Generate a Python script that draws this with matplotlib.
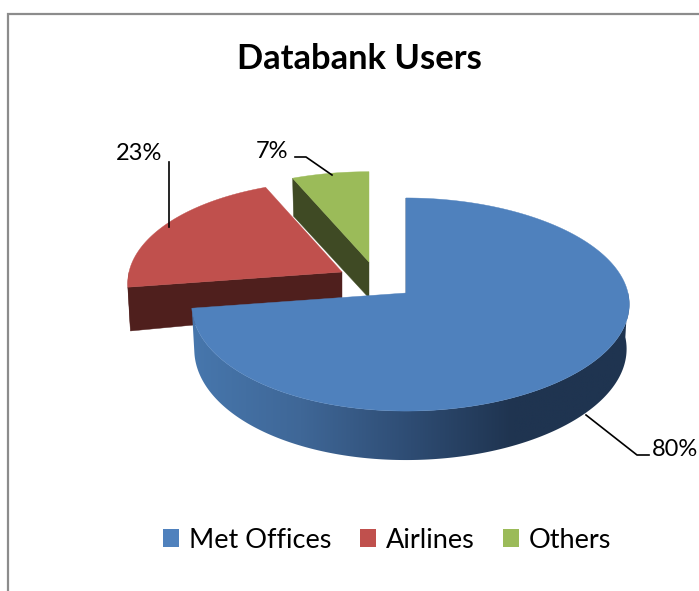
import numpy as np
import matplotlib
matplotlib.use("Agg")
import matplotlib.pyplot as plt
from matplotlib.colors import LinearSegmentedColormap
from matplotlib.patches import Patch, Polygon

# --- data ---
categories = ["Met Offices", "Airlines", "Others"]
values = [80, 23, 7]
title = "Databank Users"

# --- style ---
top_colors = ["#4F81BD", "#C0504D", "#9BBB59"]
wall_colors = ["#2E4B72", "#4F1F1D", "#3F4A24"]
apexes = [(406, 293), (342, 272), (369, 262)]
far_scale = [1.0, 0.96, 0.95]
plt.rcParams["font.family"] = ["Lato", "DejaVu Sans"]

fig = plt.figure(figsize=(6.99, 5.91), dpi=100)
ax = fig.add_axes([0, 0, 1, 1])
ax.set_xlim(0, 699)
ax.set_ylim(591, 0)
ax.axis("off")


def rim(t_deg, apex, far=1.0):
    """Project pie angle (clockwise from top) on the tilted disc."""
    t = np.radians(t_deg)
    u, v = np.sin(t), -np.cos(t)
    p, k = 0.108, 105.3
    rx = 217.5 + 4.5 * u
    w = 1 - v * p
    return apex[0] + rx * u / w, apex[1] + k * v / w * np.where(v < 0, far, 1.0)


def extrude(x, y, apex):
    d = np.interp(y, [180, 262, 288, 411], [38, 36, 44, 49])
    return x - 0.012 * (x - apex[0]), y + d


fracs = np.array(values) / sum(values)
edges = np.concatenate([[0], np.cumsum(fracs) * 360])
side_cmap = LinearSegmentedColormap.from_list(
    "side",
    [(0, "#4777AD"), (0.25, "#3F6797"), (0.50, "#2E4C73"), (0.73, "#1F3450"), (1, "#1F3450")],
)

for i in [2, 1, 0]:
    t0, t1 = edges[i], edges[i + 1]
    apex = apexes[i]
    z = 3 * (2 - i)
    # cut face at the start of the slice
    xs, ys = rim(t0, apex, far_scale[i])
    bx0, by0 = extrude(np.array([apex[0], xs]), np.array([apex[1], ys]), apex)
    ax.add_patch(Polygon([apex, (xs, ys), (bx0[1], by0[1]), (bx0[0], by0[0])],
                         fc=wall_colors[i], ec=wall_colors[i], lw=0.3, zorder=2 + z))
    # outer rim
    a, b = max(t0, 90), min(t1, 270)
    if b > a:
        tt = np.linspace(a, b, 200)
        x, y = rim(tt, apex, far_scale[i])
        bx, by = extrude(x, y, apex)
        pts = np.r_[np.c_[x, y], np.c_[bx, by][::-1]]
        poly = Polygon(pts, fc=wall_colors[i], ec="none", zorder=3 + z)
        ax.add_patch(poly)
        if i == 0:
            poly.set_facecolor("none")
            grad = np.linspace(0, 1, 256).reshape(1, -1)
            im = ax.imshow(grad, cmap=side_cmap, vmin=0, vmax=1, aspect="auto",
                           extent=(x.min() - 2, x.max() + 2, by.max() + 2, y.min() - 2),
                           zorder=3 + z)
            im.set_clip_path(poly)
    # top face
    tt = np.linspace(t0, t1, 300)
    x, y = rim(tt, apex, far_scale[i])
    ax.add_patch(Polygon(np.r_[[apex], np.c_[x, y]], fc=top_colors[i], ec=top_colors[i],
                         lw=0.3, zorder=4 + z))
ax.set_xlim(0, 699)
ax.set_ylim(591, 0)

# chart frame
ax.plot([8, 8, 699], [591, 14, 14], color="#8C8C8C", lw=1.6, zorder=1, solid_joinstyle="miter")

ax.text(359, 59, title, fontsize=24.8, fontweight="bold", ha="center", va="center", color="black", zorder=30)

# data labels and leader lines
label_xy = [(675, 449), (139, 154), (272, 151)]
leaders = [
    ([586, 637, 649], [415, 455, 455]),
    ([168.5, 168.5], [162, 227]),
    ([295, 306, 332], [157, 157, 175]),
]
for val, (lx, ly), (ax_x, ax_y) in zip(values, label_xy, leaders):
    ax.text(lx, ly, f"{val}%", fontsize=17, ha="center", va="center", color="black", zorder=30)
    ax.plot(ax_x, ax_y, color="black", lw=1.2, zorder=29)

handles = [Patch(fc=c, ec="none", label=n) for c, n in zip(top_colors, categories)]
ax.legend(handles=handles, ncols=3, loc="center", bbox_to_anchor=(387 / 699, 1 - 540 / 591),
          frameon=False, fontsize=19.5, handlelength=0.6, handleheight=0.6, handletextpad=0.35,
          columnspacing=1.05, borderpad=0, borderaxespad=0)

fig.savefig("out.png", dpi=100)
